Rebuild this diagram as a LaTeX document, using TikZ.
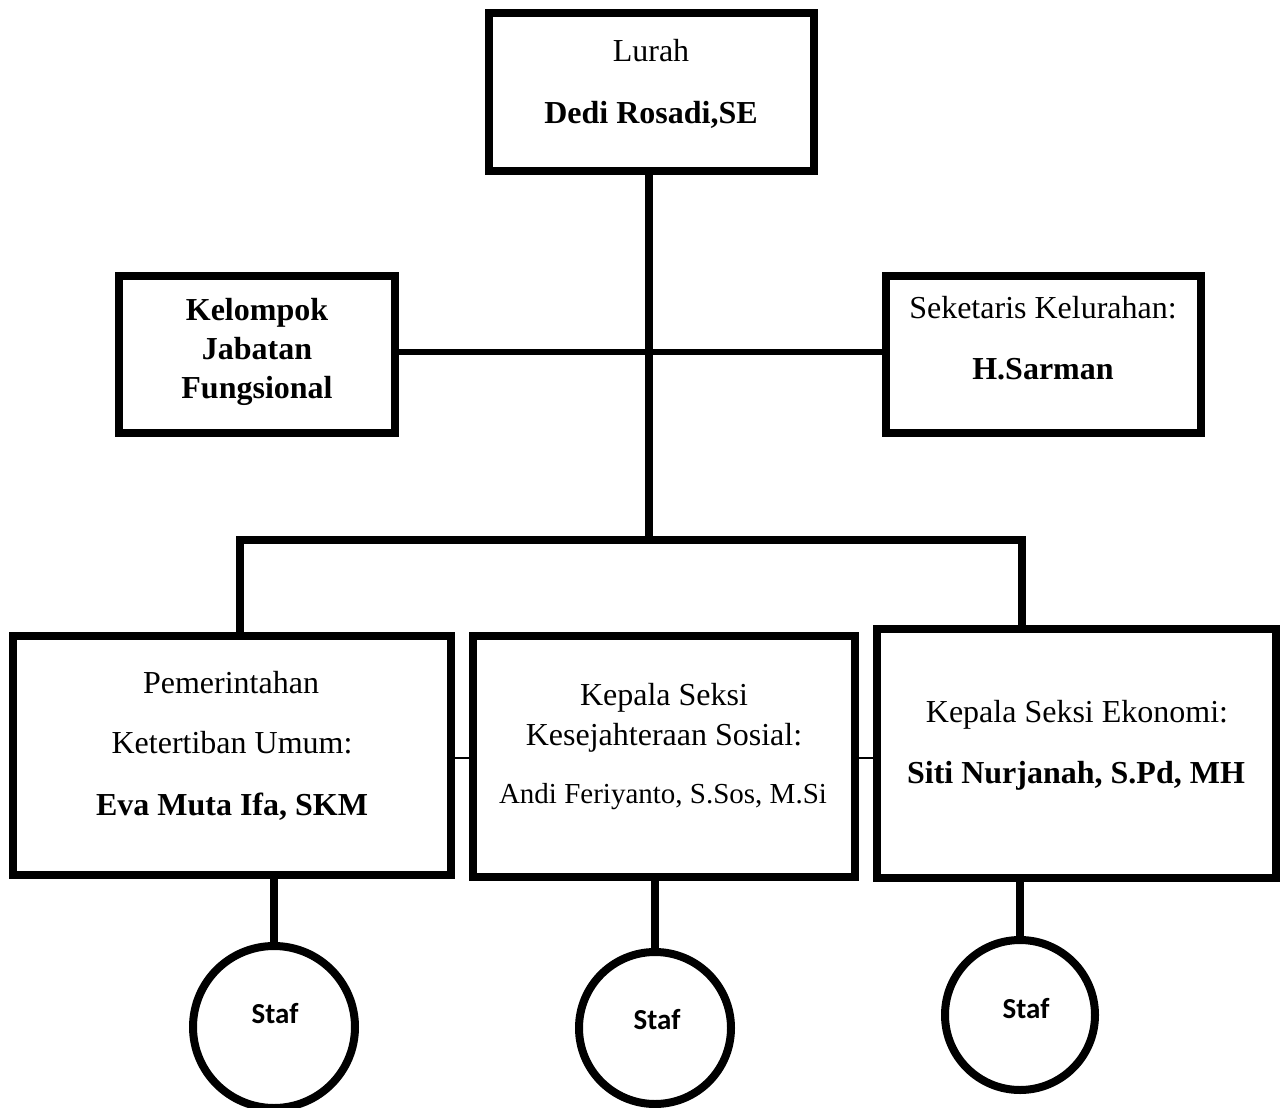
\documentclass[tikz,border=0pt]{standalone}
\usepackage{fontspec}
\setmainfont{Liberation Serif}
\newfontfamily\stafont{Carlito}
\tikzset{
  box/.style={draw=black, line width=8pt, fill=white, rectangle, inner sep=0pt},
  circ/.style={draw=black, line width=8pt, fill=white, circle, inner sep=0pt},
  txt/.style={anchor=base, inner sep=0pt, font=\fontsize{32}{38}\selectfont},
  btxt/.style={txt, font=\fontsize{32}{38}\selectfont\bfseries},
  stxt/.style={anchor=base, inner sep=0pt, font=\fontsize{29}{32}\selectfont\stafont\bfseries},
  thick line/.style={line width=8pt, line join=miter},
  mid line/.style={line width=6.5pt},
  thin line/.style={line width=1.2pt}
}
\begin{document}
\begin{tikzpicture}[x=1pt,y=-1pt]
\useasboundingbox (0,0) rectangle (1280,1108);
% coordinates of junctions
\coordinate (j1) at (649,540);
\coordinate (hy) at (649,352);
\coordinate (bl) at (240,540);
\coordinate (br) at (1022,540);
\coordinate (ty) at (660,758);

% boxes
\node[box, minimum width=325pt, minimum height=158pt] (lurah) at (651.5,92) {};
\node[box, minimum width=276pt, minimum height=157pt] (kjf) at (257,354.5) {};
\node[box, minimum width=315pt, minimum height=157pt] (sek) at (1043.5,354.5) {};
\node[box, minimum width=438pt, minimum height=239pt] (pem) at (232,755.5) {};
\node[box, minimum width=382pt, minimum height=241pt] (kes) at (664,756.5) {};
\node[box, minimum width=399pt, minimum height=249pt] (eko) at (1076.5,753.5) {};

% circles
\node[circ, minimum size=162pt] (staf1) at (274,1027) {};
\node[circ, minimum size=152pt] (staf2) at (655,1028) {};
\node[circ, minimum size=150pt] (staf3) at (1020,1015) {};

% connectors
\draw[mid line] (kjf.east |- hy) -- (sek.west |- hy);
\draw[thick line] (j1 |- lurah.south) -- (j1);
\draw[thick line] (bl |- pem.north) -- (bl) -- (br) -- (br |- eko.north);
\draw[thin line] (pem.east |- ty) -- (kes.west |- ty);
\draw[thin line] (kes.east |- ty) -- (eko.west |- ty);
\draw[thick line] (staf1.north |- pem.south) -- (staf1.north);
\draw[thick line] (staf2.north |- kes.south) -- (staf2.north);
\draw[thick line] (staf3.north |- eko.south) -- (staf3.north);

% texts
\node[txt] (t1) at (651,62) {Lurah};
\node[btxt] (t2) at (651,123) {Dedi Rosadi,SE};
\node[btxt] (t3) at (257,320) {Kelompok};
\node[btxt] (t4) at (257,359) {Jabatan};
\node[btxt] (t5) at (257,398) {Fungsional};
\node[txt] (t6) at (1043,318) {Seketaris Kelurahan:};
\node[btxt] (t7) at (1043,379) {H.Sarman};
\node[txt] (t8) at (231,693) {Pemerintahan};
\node[txt] (t9) at (232,753) {Ketertiban Umum:};
\node[btxt] (t10) at (232,815) {Eva Muta Ifa, SKM};
\node[txt] (t11) at (664,705) {Kepala Seksi};
\node[txt] (t12) at (664,745) {Kesejahteraan Sosial:};
\node[txt, font=\fontsize{29}{34}\selectfont] (t13) at (663,803) {Andi Feriyanto, S.Sos, M.Si};
\node[txt] (t14) at (1077,722) {Kepala Seksi Ekonomi:};
\node[btxt] (t15) at (1076,783) {Siti Nurjanah, S.Pd, MH};
\node[stxt] (s1) at (275,1023) {Staf};
\node[stxt] (s2) at (657,1029) {Staf};
\node[stxt] (s3) at (1026,1018) {Staf};
\end{tikzpicture}
\end{document}
